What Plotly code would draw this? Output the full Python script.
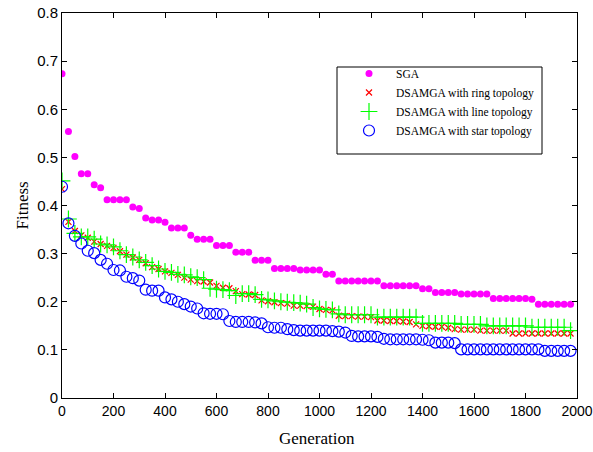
import plotly.graph_objects as go

generations = list(range(0, 2000, 25))

sga = [0.674, 0.554, 0.502, 0.466, 0.466, 0.443, 0.437, 0.412, 0.412, 0.412,
       0.412, 0.397, 0.394, 0.374, 0.370, 0.370, 0.365, 0.353, 0.353, 0.353,
       0.338, 0.330, 0.330, 0.330, 0.317, 0.317, 0.317, 0.303, 0.303, 0.303,
       0.286, 0.286, 0.286, 0.269, 0.269, 0.269, 0.269, 0.266, 0.266, 0.266,
       0.266, 0.257, 0.257, 0.243, 0.243, 0.243, 0.243, 0.243, 0.243, 0.243,
       0.233, 0.233, 0.233, 0.233, 0.233, 0.233, 0.227, 0.227, 0.219, 0.219,
       0.219, 0.219, 0.216, 0.216, 0.216, 0.216, 0.216, 0.207, 0.207, 0.207,
       0.207, 0.207, 0.207, 0.205, 0.195, 0.195, 0.195, 0.195, 0.195, 0.195]

ring = [0.434, 0.366, 0.347, 0.338, 0.333, 0.325, 0.320, 0.316, 0.312, 0.305,
        0.298, 0.292, 0.287, 0.280, 0.272, 0.268, 0.263, 0.260, 0.256, 0.250,
        0.246, 0.243, 0.242, 0.240, 0.233, 0.229, 0.228, 0.222, 0.216, 0.215,
        0.214, 0.203, 0.201, 0.199, 0.197, 0.196, 0.192, 0.192, 0.191, 0.190,
        0.185, 0.183, 0.182, 0.171, 0.170, 0.170, 0.169, 0.169, 0.168, 0.161,
        0.161, 0.160, 0.160, 0.159, 0.158, 0.153, 0.150, 0.149, 0.148, 0.148,
        0.146, 0.143, 0.142, 0.142, 0.142, 0.140, 0.140, 0.140, 0.140, 0.140,
        0.134, 0.134, 0.134, 0.134, 0.134, 0.134, 0.134, 0.134, 0.134, 0.134]

line = [0.451, 0.372, 0.342, 0.335, 0.335, 0.330, 0.320, 0.318, 0.314, 0.306,
        0.298, 0.293, 0.287, 0.282, 0.275, 0.268, 0.263, 0.261, 0.257, 0.256,
        0.252, 0.250, 0.246, 0.228, 0.226, 0.225, 0.223, 0.213, 0.217, 0.217,
        0.215, 0.205, 0.204, 0.202, 0.200, 0.199, 0.198, 0.197, 0.195, 0.188,
        0.185, 0.184, 0.183, 0.175, 0.173, 0.173, 0.173, 0.173, 0.173, 0.168,
        0.168, 0.168, 0.168, 0.168, 0.168, 0.168, 0.155, 0.155, 0.155, 0.155,
        0.155, 0.155, 0.153, 0.153, 0.153, 0.153, 0.150, 0.150, 0.150, 0.150,
        0.150, 0.150, 0.150, 0.147, 0.147, 0.147, 0.147, 0.147, 0.147, 0.140]

star = [0.439, 0.363, 0.337, 0.321, 0.306, 0.301, 0.287, 0.279, 0.266, 0.265,
        0.252, 0.249, 0.244, 0.225, 0.223, 0.223, 0.209, 0.205, 0.200, 0.195,
        0.190, 0.186, 0.176, 0.175, 0.175, 0.174, 0.160, 0.158, 0.158, 0.158,
        0.157, 0.155, 0.147, 0.146, 0.146, 0.143, 0.141, 0.140, 0.140, 0.140,
        0.140, 0.140, 0.139, 0.138, 0.136, 0.129, 0.128, 0.128, 0.128, 0.127,
        0.123, 0.122, 0.122, 0.122, 0.122, 0.122, 0.121, 0.120, 0.115, 0.115,
        0.115, 0.114, 0.101, 0.101, 0.101, 0.101, 0.101, 0.101, 0.101, 0.101,
        0.101, 0.101, 0.101, 0.101, 0.101, 0.098, 0.098, 0.098, 0.098, 0.098]

series_names = ["SGA", "DSAMGA with ring topology",
                "DSAMGA with line topology", "DSAMGA with star topology"]
x_ticks = list(range(0, 2001, 200))
y_ticks = [0, 0.1, 0.2, 0.3, 0.4, 0.5, 0.6, 0.7, 0.8]
y_tick_text = ["0", "0.1", "0.2", "0.3", "0.4", "0.5", "0.6", "0.7", "0.8"]

fig = go.Figure()
fig.add_trace(go.Scatter(x=generations, y=sga, mode="markers", name=series_names[0],
                         marker=dict(symbol="circle", size=7, color="#ff00ff",
                                     line=dict(width=0))))
fig.add_trace(go.Scatter(x=generations, y=ring, mode="markers", name=series_names[1],
                         marker=dict(symbol="x-thin", size=6,
                                     line=dict(width=1.2, color="#ff0000"))))
fig.add_trace(go.Scatter(x=generations, y=line, mode="markers", name=series_names[2],
                         marker=dict(symbol="cross-thin", size=12,
                                     line=dict(width=1.2, color="#00ff00"))))
fig.add_trace(go.Scatter(x=generations, y=star, mode="markers", name=series_names[3],
                         marker=dict(symbol="circle-open", size=11, color="#0000ff",
                                     line=dict(width=1.2, color="#0000ff"))))

axis_common = dict(showgrid=False, zeroline=False, showline=True, linecolor="black",
                   linewidth=1, mirror="ticks", ticks="inside", ticklen=5,
                   tickcolor="black", automargin=False)

fig.update_xaxes(range=[0, 2000], tickvals=x_ticks,
                 tickfont=dict(family="Liberation Sans, Arial", size=14, color="black"),
                 **axis_common)
fig.update_yaxes(range=[0, 0.8], tickvals=y_ticks, ticktext=y_tick_text,
                 tickfont=dict(family="Liberation Sans, Arial", size=15, color="black"),
                 **axis_common)

fig.update_layout(
    width=593, height=452,
    margin=dict(l=62, r=16, t=13, b=54, autoexpand=False),
    plot_bgcolor="white", paper_bgcolor="white",
    showlegend=True,
    legend=dict(x=(342 - 62) / 515, y=(398 - 59) / 385, xanchor="left", yanchor="top",
                bgcolor="rgba(0,0,0,0)", borderwidth=0, itemwidth=44,
                font=dict(family="Liberation Serif, Times New Roman", size=11.5, color="black")),
    shapes=[dict(type="rect", xref="paper", yref="paper",
                 x0=(337 - 62) / 515, x1=(542 - 62) / 515,
                 y0=(398 - 154) / 385, y1=(398 - 67) / 385,
                 line=dict(color="black", width=1), fillcolor="rgba(0,0,0,0)")],
    annotations=[
        dict(text="Generation", xref="paper", yref="paper",
             x=(317 - 62) / 515, y=(398 - 439) / 385, xanchor="center", yanchor="middle",
             showarrow=False,
             font=dict(family="Liberation Serif, Times New Roman", size=17, color="black")),
        dict(text="Fitness", xref="paper", yref="paper",
             x=(22 - 62) / 515, y=0.5, xanchor="center", yanchor="middle",
             textangle=-90, showarrow=False,
             font=dict(family="Liberation Serif, Times New Roman", size=17, color="black")),
    ],
)

fig.write_html("out.html", config={"displayModeBar": False},
               post_script="document.body.style.margin='0';document.body.style.overflow='hidden';")
